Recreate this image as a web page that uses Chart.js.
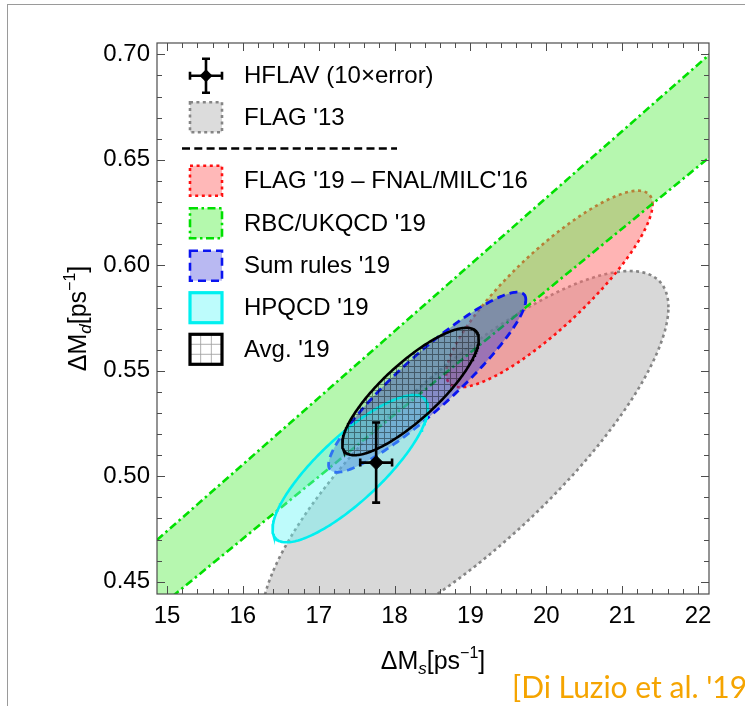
<!DOCTYPE html>
<html>
<head>
<meta charset="utf-8">
<script src="https://cdn.jsdelivr.net/npm/chart.js@4.4.1/dist/chart.umd.min.js"></script>
<style>
html,body{margin:0;padding:0;background:#fff;width:745px;height:706px;overflow:hidden;}
#wrap{position:relative;width:745px;height:706px;overflow:hidden;}
#c{position:absolute;left:0;top:0;}
#frame{position:absolute;left:7px;top:4px;width:760px;height:720px;border-top:1px solid #9a9a9a;border-left:1px solid #9a9a9a;}
#src{position:absolute;left:512px;top:671px;font-family:Lato,"DejaVu Sans",sans-serif;font-size:30px;line-height:30px;color:#f5a400;white-space:nowrap;}
</style>
</head>
<body>
<div id="wrap">
<div id="frame"></div>
<canvas id="c" width="745" height="706"></canvas>
<div id="src">[Di Luzio et al. '19]</div>
</div>
<script>
// ---------------- data ----------------
const xTicks = [15, 16, 17, 18, 19, 20, 21, 22];
const xTickLabels = ['15', '16', '17', '18', '19', '20', '21', '22'];
const yTicks = [0.45, 0.50, 0.55, 0.60, 0.65, 0.70];
const yTickLabels = ['0.45', '0.50', '0.55', '0.60', '0.65', '0.70'];

// correlated (ΔMs, ΔMd) regions: centre, half-widths, correlation
const ellipseNames = ["FLAG '13", "FLAG '19 \u2013 FNAL/MILC'16", "Sum rules '19", "HPQCD '19", "Avg. '19"];
const ellipseDMs   = [18.93, 20.04, 18.43, 17.415, 18.21];
const ellipseDMd   = [0.5068, 0.5888, 0.5446, 0.5036, 0.5402];
const ellipseSigMs = [2.68, 1.36, 1.30, 1.024, 0.90];
const ellipseSigMd = [0.0905, 0.0466, 0.0427, 0.0349, 0.0302];
const ellipseCorr  = [0.81, 0.86, 0.915, 0.82, 0.82];

// RBC/UKQCD '19 band: ratio ΔMd/ΔMs
const bandName = "RBC/UKQCD '19";
const bandRatioLow  = [0.0294];
const bandRatioHigh = [0.0316];

// HFLAV measurement (10 x error)
const hflavName = "HFLAV (10\u00d7error)";
const hflavDMs = [17.757];
const hflavDMd = [0.5065];
const hflavErrDMs = [0.21];
const hflavErrDMd = [0.019];

// ---------------- helpers ----------------
const X_MIN = 14.868, X_MAX = 22.145, Y_MIN = 0.4442, Y_MAX = 0.7054;
const FONT = '"Liberation Sans", Arial, sans-serif';

function ellipsePoints(i) {
  const pts = [];
  const n = 240;
  const r = ellipseCorr[i], q = Math.sqrt(1 - r * r);
  for (let k = 0; k <= n; k++) {
    const t = 2 * Math.PI * k / n;
    pts.push({
      x: ellipseDMs[i] + ellipseSigMs[i] * Math.cos(t),
      y: ellipseDMd[i] + ellipseSigMd[i] * (r * Math.cos(t) + q * Math.sin(t))
    });
  }
  return pts;
}

function hatchPattern(bg, line) {
  const p = document.createElement('canvas');
  p.width = 6; p.height = 6;
  const g = p.getContext('2d');
  g.fillStyle = bg; g.fillRect(0, 0, 6, 6);
  g.fillStyle = line;
  g.fillRect(0, 0, 6, 1);
  g.fillRect(0, 1, 1, 5);
  return document.getElementById('c').getContext('2d').createPattern(p, 'repeat');
}

const styles = [
  {border: '#858585', dash: [3, 3.4], width: 2.6, fill: 'rgba(205,205,205,0.78)', order: 9},
  {border: '#ff1010', dash: [3, 3.6], width: 2.6, fill: 'rgba(255,105,105,0.5)', order: 8},
  {border: '#0a14f0', dash: [8, 5], width: 2.8, fill: 'rgba(60,60,205,0.45)', order: 5},
  {border: '#00f0f0', dash: [], width: 2.6, fill: 'rgba(100,245,245,0.42)', order: 4},
  {border: '#000000', dash: [], width: 2.6, fill: null, order: 3}
];

const datasets = [];
ellipseNames.forEach((name, i) => {
  const s = styles[i];
  datasets.push({
    label: name,
    data: ellipsePoints(i),
    showLine: true, pointRadius: 0, tension: 0,
    borderColor: s.border, borderDash: s.dash, borderWidth: s.width,
    backgroundColor: s.fill || hatchPattern('rgba(40,90,110,0.12)', 'rgba(0,0,0,0.42)'),
    fill: 'shape', order: s.order, clip: 0
  });
});
// band
const bandHiIndex = datasets.length;
datasets.push({
  label: bandName + ' hi',
  data: [{x: 14, y: bandRatioHigh[0] * 14}, {x: 23, y: bandRatioHigh[0] * 23}],
  showLine: true, pointRadius: 0, borderColor: '#00e000', borderWidth: 2.6,
  borderDash: [8, 3.5, 2.5, 3.5], fill: false, order: 6, clip: 0
});
datasets.push({
  label: bandName,
  data: [{x: 14, y: bandRatioLow[0] * 14}, {x: 23, y: bandRatioLow[0] * 23}],
  showLine: true, pointRadius: 0, borderColor: '#00e000', borderWidth: 2.6,
  borderDash: [8, 3.5, 2.5, 3.5], fill: bandHiIndex, backgroundColor: 'rgba(110,240,95,0.5)',
  order: 7, clip: 0
});
// HFLAV point
datasets.push({
  label: hflavName,
  data: hflavDMs.map((v, i) => ({x: v, y: hflavDMd[i]})),
  showLine: false, pointStyle: 'rectRot', pointRadius: 7,
  backgroundColor: '#000', borderColor: '#000', borderWidth: 1, order: 1, clip: 0
});

// ---------------- plugins ----------------
function drawErrBar(ctx, cx, cy, hx, hy, cap, diamond) {
  ctx.save();
  ctx.strokeStyle = '#000'; ctx.lineWidth = 2.6; ctx.lineCap = 'butt';
  ctx.beginPath();
  ctx.moveTo(cx - hx, cy); ctx.lineTo(cx + hx, cy);
  ctx.moveTo(cx, cy - hy); ctx.lineTo(cx, cy + hy);
  ctx.moveTo(cx - hx, cy - cap); ctx.lineTo(cx - hx, cy + cap);
  ctx.moveTo(cx + hx, cy - cap); ctx.lineTo(cx + hx, cy + cap);
  ctx.moveTo(cx - cap, cy - hy); ctx.lineTo(cx + cap, cy - hy);
  ctx.moveTo(cx - cap, cy + hy); ctx.lineTo(cx + cap, cy + hy);
  ctx.stroke();
  if (diamond) {
    ctx.fillStyle = '#000';
    ctx.beginPath();
    ctx.moveTo(cx - diamond, cy); ctx.lineTo(cx, cy - diamond);
    ctx.lineTo(cx + diamond, cy); ctx.lineTo(cx, cy + diamond);
    ctx.closePath(); ctx.fill();
  }
  ctx.restore();
}

function richText(ctx, parts, x, y) {
  let w = 0;
  parts.forEach(p => { ctx.font = p.font; w += ctx.measureText(p.t).width + (p.gap || 0); });
  let cx = x - w / 2;
  parts.forEach(p => {
    ctx.font = p.font;
    ctx.fillText(p.t, cx, y + (p.dy || 0));
    cx += ctx.measureText(p.t).width + (p.gap || 0);
  });
}

const decorations = {
  id: 'decorations',
  afterDatasetsDraw(chart) {
    const {ctx, chartArea: a, scales: {x, y}} = chart;
    // HFLAV error bars
    hflavDMs.forEach((v, i) => {
      const cx = x.getPixelForValue(v), cy = y.getPixelForValue(hflavDMd[i]);
      const hx = x.getPixelForValue(v + hflavErrDMs[i]) - cx;
      const hy = cy - y.getPixelForValue(hflavDMd[i] + hflavErrDMd[i]);
      drawErrBar(ctx, cx, cy, hx, hy, 4, 0);
    });
    ctx.save();
    // frame
    ctx.strokeStyle = '#4d4d4d'; ctx.lineWidth = 1.2;
    ctx.strokeRect(a.left, a.top, a.right - a.left, a.bottom - a.top);
    ctx.lineWidth = 1; ctx.strokeStyle = '#4d4d4d';
    ctx.beginPath();
    for (let k = Math.ceil(X_MIN * 5); k <= Math.floor(X_MAX * 5); k++) {
      const px = Math.round(x.getPixelForValue(k / 5)) + 0.5;
      const len = (k % 5 === 0) ? 8 : 5;
      ctx.moveTo(px, a.bottom); ctx.lineTo(px, a.bottom - len);
      ctx.moveTo(px, a.top); ctx.lineTo(px, a.top + len);
    }
    for (let k = Math.ceil(Y_MIN * 100); k <= Math.floor(Y_MAX * 100); k++) {
      const py = Math.round(y.getPixelForValue(k / 100)) + 0.5;
      const len = (k % 5 === 0) ? 8 : 5;
      ctx.moveTo(a.left, py); ctx.lineTo(a.left + len, py);
      ctx.moveTo(a.right, py); ctx.lineTo(a.right - len, py);
    }
    ctx.stroke();
    ctx.restore();

    // axis titles
    ctx.save();
    ctx.fillStyle = '#000'; ctx.textBaseline = 'alphabetic';
    const big = '25px ' + FONT, sub = 'italic 17px ' + FONT, sup = '16px ' + FONT;
    richText(ctx, [
      {t: '\u0394M', font: big}, {t: 's', font: sub, dy: 5}, {t: '[ps', font: big},
      {t: '\u22121', font: sup, dy: -11}, {t: ']', font: big}
    ], (a.left + a.right) / 2, 669);
    ctx.translate(86, (a.top + a.bottom) / 2);
    ctx.rotate(-Math.PI / 2);
    richText(ctx, [
      {t: '\u0394M', font: big}, {t: 'd', font: sub, dy: 5}, {t: '[ps', font: big},
      {t: '\u22121', font: sup, dy: -11}, {t: ']', font: big}
    ], 0, 0);
    ctx.restore();

    // legend
    ctx.save();
    const bx = 190, bw = 32, bh = 30, tx = 244;
    const rows = [75.7, 117.3, 180.7, 223.3, 265.7, 307.7, 349.3];
    ctx.font = '24px ' + FONT; ctx.fillStyle = '#000'; ctx.textBaseline = 'middle';
    drawErrBar(ctx, bx + bw / 2, rows[0], 16, 17, 4, 6.5);
    ctx.fillStyle = '#000';
    ctx.fillText(hflavName, tx, rows[0] + 1);
    const boxes = [
      {row: 1, i: 0, fill: '#dcdcdc'},
      {row: 2, i: 1, fill: '#ffb8b8'},
      {row: 3, band: true, fill: '#b4f9ad'},
      {row: 4, i: 2, fill: '#b9b9f2'},
      {row: 5, i: 3, fill: '#bdfcfc'},
      {row: 6, i: 4, fill: '#ffffff'}
    ];
    boxes.forEach(b => {
      const cy = rows[b.row], top = cy - bh / 2;
      ctx.fillStyle = b.fill;
      ctx.fillRect(bx, top, bw, bh);
      if (b.i === 4) {
        ctx.strokeStyle = '#9a9a9a'; ctx.lineWidth = 0.8;
        ctx.beginPath();
        for (let k = 1; k < 3; k++) {
          ctx.moveTo(bx + k * bw / 3, top); ctx.lineTo(bx + k * bw / 3, top + bh);
          ctx.moveTo(bx, top + k * bh / 3); ctx.lineTo(bx + bw, top + k * bh / 3);
        }
        ctx.stroke();
      }
      let col, dash, lw;
      if (b.band) { col = '#00e000'; dash = [8, 3.5, 2.5, 3.5]; lw = 2.6; }
      else { col = styles[b.i].border; dash = styles[b.i].dash; lw = (b.i >= 3) ? 3.2 : 2.6; }
      ctx.strokeStyle = col; ctx.lineWidth = lw; ctx.setLineDash(dash);
      ctx.strokeRect(bx, top, bw, bh);
      ctx.setLineDash([]);
      ctx.fillStyle = '#000';
      ctx.fillText(b.band ? bandName : ellipseNames[b.i], tx, cy + 1);
    });
    // separator
    ctx.strokeStyle = '#000'; ctx.lineWidth = 2.6; ctx.setLineDash([8, 4.3]);
    ctx.beginPath(); ctx.moveTo(182, 148.5); ctx.lineTo(397, 148.5); ctx.stroke();
    ctx.restore();
  }
};

new Chart(document.getElementById('c'), {
  type: 'scatter',
  data: {datasets},
  options: {
    responsive: false, animation: false, events: [],
    layout: {padding: {left: 0, top: 43, right: 36, bottom: 0}},
    plugins: {legend: {display: false}, tooltip: {enabled: false}},
    scales: {
      x: {
        type: 'linear', min: X_MIN, max: X_MAX,
        afterFit: s => { s.height = 112; },
        afterBuildTicks: s => { s.ticks = xTicks.map(v => ({value: v})); },
        ticks: {autoSkip: false, maxRotation: 0, padding: 8, color: '#000',
                font: {family: FONT, size: 24},
                callback: (v, i) => xTickLabels[i]},
        grid: {display: false, drawTicks: false}, border: {display: false}
      },
      y: {
        type: 'linear', min: Y_MIN, max: Y_MAX,
        afterFit: s => { s.width = 157; },
        afterBuildTicks: s => { s.ticks = yTicks.map(v => ({value: v})); },
        ticks: {autoSkip: false, padding: 7, color: '#000',
                font: {family: FONT, size: 24},
                callback: (v, i) => yTickLabels[i]},
        grid: {display: false, drawTicks: false}, border: {display: false}
      }
    }
  },
  plugins: [decorations]
});
</script>
</body>
</html>
